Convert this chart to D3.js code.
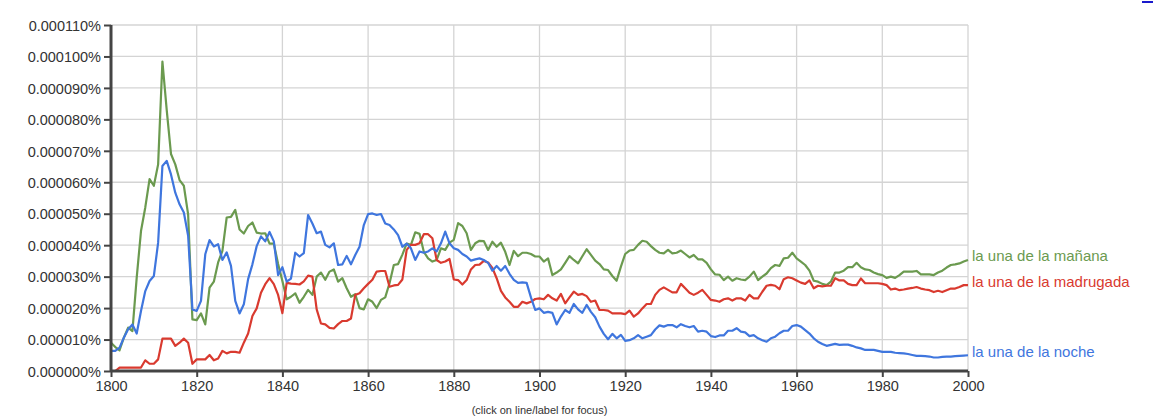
<!DOCTYPE html>
<html>
<head>
<meta charset="utf-8">
<script src="https://cdn.jsdelivr.net/npm/d3@7"></script>
<style>
  html, body { margin: 0; padding: 0; background: #fff; }
  svg { display: block; font-family: "Liberation Sans", Arial, Helvetica, sans-serif; }
</style>
</head>
<body>
<svg id="chart" width="1153" height="417"></svg>
<script>
// Years 1800..2000 (one value per year), values in units of 0.000001 %
const years = d3.range(1800, 2001);

const manana = [
  9.0, 7.6, 6.6, 10.6, 13.8, 12.7, 29.7, 44.5, 52, 61,
  58.9, 65.7, 98.4, 83, 69, 65.7, 60.7, 58.9, 49.8, 16.4,
  16.2, 18.3, 14.8, 26.5, 28.4, 34.5, 38.2, 48.8, 49, 51.2,
  45, 43.7, 46.1, 47.2, 44, 43.7, 43.8, 40.5, 40.5, 34,
  28.6, 22.8, 23.6, 24.7, 21.7, 23.6, 25.8, 24.2, 30, 31.3,
  29, 31.6, 32.3, 28.4, 29.5, 26.3, 23.6, 24.4, 20, 19.6,
  22.8, 22, 20, 22.6, 23.4, 27.9, 33.7, 34, 37, 40.5,
  40.1, 44.1, 43.6, 37.9, 35.8, 34.8, 35.3, 39, 38.5, 40.8,
  41.7, 47, 46.1, 43.8, 38.5, 40.6, 41.4, 41.3, 38.5, 41.1,
  39.5, 40.8, 37.9, 33.7, 38.2, 36.5, 37.6, 37.6, 37.2, 36.4,
  36.4, 34.8, 35.8, 30.5, 31.3, 32.3, 34.4, 36.5, 35.3, 34.2,
  36.5, 38.7, 36.9, 35.1, 34, 32.3, 32.1, 30.2, 28.7, 33.2,
  37.2, 38.3, 38.5, 40.1, 41.4, 41.1, 39.7, 38.5, 37.6, 37.4,
  38.5, 37.4, 37.6, 38.3, 37.2, 36.1, 36.9, 35.5, 35.5, 34.4,
  32.3, 30.7, 30.6, 28.9, 30, 28.7, 29.5, 29.1, 28.9, 30,
  31.6, 28.9, 30, 31, 32.7, 33.7, 33.4, 35.8, 36, 37.6,
  35.8, 34.8, 33.7, 31.9, 28.7, 28.4, 27.7, 27.3, 28.4, 31.3,
  31.3, 31.9, 33, 33, 34.4, 33, 32.3, 32.1, 31.3, 30.8,
  30.5, 29.6, 30, 29.6, 30.5, 31.6, 31.6, 31.6, 31.8, 30.7,
  30.7, 30.7, 30.5, 31.3, 31.9, 32.9, 33.7, 33.9, 34.2, 34.8,
  35.3
];

const madrugada = [
  0, 0, 1.1, 1.1, 1.1, 1.1, 1.1, 1.1, 3.4, 2.3,
  2.3, 3.7, 10.3, 10.3, 10.3, 8, 9, 10.3, 9, 2.3,
  3.7, 3.7, 3.7, 5.1, 3.4, 4, 6.4, 5.6, 6.1, 6.1,
  5.8, 9, 11.9, 17.5, 19.9, 24.9, 27.6, 29.5, 27.6, 24.2,
  18.4, 28, 27.8, 27.7, 27.5, 28.5, 30.3, 30, 19.6, 15.1,
  14.8, 13.7, 13.5, 14.9, 15.9, 15.9, 16.7, 24.2, 24.7, 26.3,
  27.7, 29, 31.6, 31.8, 31.8, 26.8, 27.2, 27.4, 29.1, 38.5,
  40.1, 40.1, 40.6, 43.5, 43.5, 42.2, 35.3, 34.4, 34.8, 35.6,
  29.1, 28.9, 27.5, 28.9, 32.3, 33.7, 33.8, 35, 34.5, 32.8,
  29.5, 25.5, 23.4, 22, 20.4, 20.4, 22, 21.5, 22, 22.9,
  23.1, 22.8, 24.2, 23.1, 22.4, 24.5, 21.5, 23.4, 25.2, 24.2,
  24.5, 23.8, 22, 22.4, 19.4, 19.4, 19.2, 18.3, 18.3, 18.3,
  18.1, 19.2, 17.3, 18.3, 19.9, 21.3, 21.3, 24.2, 25.8, 26.6,
  25.8, 25, 25, 27.7, 26.3, 24.9, 24.2, 24.9, 25.8, 24.2,
  22.6, 22.4, 22, 22.8, 23.1, 22.4, 23.1, 23.1, 22.4, 24.2,
  23.1, 23.1, 25.2, 27.1, 27.4, 27.1, 26, 29.2, 29.8, 29.5,
  28.8, 28.1, 27.7, 28.8, 26.3, 27.1, 26.9, 27.1, 27.1, 29.5,
  28.8, 28.8, 27.7, 27.3, 27.3, 29.4, 27.9, 27.9, 27.9, 27.9,
  27.7, 27.3, 25.9, 26.2, 25.7, 25.9, 26.2, 26.4, 26.7, 26.2,
  25.9, 25.7, 25.1, 25.5, 25.1, 25.7, 26.2, 26.2, 26.7, 27.3,
  27.3
];

const noche = [
  6.4, 6.4, 7.4, 10.6, 13.3, 14.8, 11.9, 19.1, 25.4, 28.6,
  30.2, 40.8, 65.2, 66.8, 62.5, 56.7, 53, 50.4, 43, 19.6,
  19.1, 22.3, 37.1, 41.6, 39.6, 40.3, 35.3, 37.7, 33.4, 22.3,
  18.3, 21.2, 29.2, 33.9, 39.7, 42.8, 41.2, 44.2, 41.2, 30.5,
  33, 28.4, 29.4, 37.6, 36.4, 37.5, 49.6, 46.9, 43.8, 44.3,
  40.1, 39.3, 40.6, 33.7, 33.9, 36.6, 33.9, 36.9, 39.5, 46.4,
  49.9, 50.1, 49.6, 49.9, 46.9, 46.4, 45, 43.2, 39.5, 40.5,
  39, 35.3, 38, 37.6, 38, 39, 38, 40.6, 44.3, 40.6,
  39, 38.5, 37.2, 36.4, 35.1, 35.5, 35.8, 35.3, 34.4, 31.9,
  33.4, 31.9, 33.4, 30.9, 29, 28, 28.2, 28, 23.4, 19.4,
  19.9, 18.5, 18.8, 18.5, 14.8, 17.3, 19.4, 18.5, 21.3, 19.6,
  18.5, 21, 18.8, 17.1, 14.1, 11.8, 10.1, 11.8, 10.4, 11.5,
  9.6, 9.8, 10.4, 11.4, 10.4, 10.9, 11.4, 13.2, 14.5, 14.1,
  14.6, 14.6, 13.9, 14.9, 14.3, 13.9, 14.3, 12.5, 12.8, 12.5,
  11.1, 10.8, 11.3, 11.3, 12.8, 12.8, 13.6, 12.5, 12.3, 11.1,
  11.4, 10.4, 9.8, 9.3, 10.4, 10.9, 12, 12.8, 12.8, 14.3,
  14.6, 14.1, 13, 11.9, 10.4, 9.3, 8.6, 8, 8.3, 8.6,
  8.3, 8.4, 8.4, 8, 7.5, 7.2, 6.7, 6.7, 6.7, 6.4,
  6.1, 6.1, 6.1, 5.8, 5.7, 5.6, 5.4, 5.1, 4.8, 4.8,
  4.7, 4.6, 4.3, 4.3, 4.5, 4.6, 4.6, 4.7, 4.8, 4.9,
  5
];

const seriesNames = ["la una de la mañana", "la una de la madrugada", "la una de la noche"];
const seriesColors = ["#6b9a4f", "#d93a2f", "#3f76de"];
const seriesValues = [manana, madrugada, noche];

const yTickValues = [0, 10, 20, 30, 40, 50, 60, 70, 80, 90, 100, 110];
const xTickValues = [1800, 1820, 1840, 1860, 1880, 1900, 1920, 1940, 1960, 1980, 2000];
const footnote = "(click on line/label for focus)";

const svg = d3.select("#chart");
const x = d3.scaleLinear().domain([1800, 2000]).range([111, 968]);
const y = d3.scaleLinear().domain([0, 110]).range([371, 25]);

// gridlines
svg.append("g").selectAll("line.h").data(yTickValues).join("line")
  .attr("x1", x(1800)).attr("x2", x(2000))
  .attr("y1", d => y(d)).attr("y2", d => y(d))
  .attr("stroke", "#d4d4d4").attr("stroke-width", 1.3);
svg.append("g").selectAll("line.v").data(xTickValues).join("line")
  .attr("x1", d => x(d)).attr("x2", d => x(d))
  .attr("y1", y(110)).attr("y2", y(0))
  .attr("stroke", "#d4d4d4").attr("stroke-width", 1.3);

// lines
const line = d3.line().x((d, i) => x(years[i])).y(d => y(d));
seriesValues.forEach((vals, k) => {
  svg.append("path").datum(vals)
    .attr("d", line)
    .attr("fill", "none")
    .attr("stroke", seriesColors[k])
    .attr("stroke-width", 2.2)
    .attr("stroke-linejoin", "round");
});

// axes
const fmt = d => (d / 1e6).toFixed(6) + "%";
const yAxis = svg.append("g").attr("transform", `translate(${x(1800)},0)`)
  .call(d3.axisLeft(y).tickValues(yTickValues).tickFormat(fmt).tickSize(7).tickPadding(3));
const xAxis = svg.append("g").attr("transform", `translate(0,${y(0)})`)
  .call(d3.axisBottom(x).tickValues(xTickValues).tickFormat(d3.format("d")).tickSize(6).tickPadding(3));

[yAxis, xAxis].forEach(a => {
  a.select(".domain").attr("stroke", "#444").attr("stroke-width", 3);
  a.selectAll(".tick line").attr("stroke", "#444").attr("stroke-width", 2);
  a.selectAll(".tick text").attr("fill", "#333").style("font-size", "14.5px")
    .style("font-family", "'Liberation Sans', Arial, sans-serif");
});
yAxis.select(".domain").attr("d", `M0,${y(110)}V${y(0)}`);
xAxis.select(".domain").attr("d", `M${x(1800)},0H${x(2000)}`);
yAxis.selectAll(".tick text").attr("dy", "0.36em");
xAxis.selectAll(".tick text").attr("dy", "0.78em");

// series labels
seriesValues.forEach((vals, k) => {
  svg.append("text")
    .attr("x", x(2000) + 4)
    .attr("y", y(vals[vals.length - 1]) - 4)
    .attr("dy", "0.36em")
    .attr("fill", seriesColors[k])
    .style("font-size", "15px")
    .text(seriesNames[k]);
});

// footnote
svg.append("text")
  .attr("x", (x(1800) + x(2000)) / 2 - 0)
  .attr("y", 414)
  .attr("text-anchor", "middle")
  .attr("fill", "#333")
  .style("font-size", "11px")
  .text(footnote);

// cut-off link underline at top right
svg.append("line").attr("x1", 1142).attr("x2", 1153).attr("y1", 2).attr("y2", 2)
  .attr("stroke", "#1a1acc").attr("stroke-width", 2);
</script>
</body>
</html>
